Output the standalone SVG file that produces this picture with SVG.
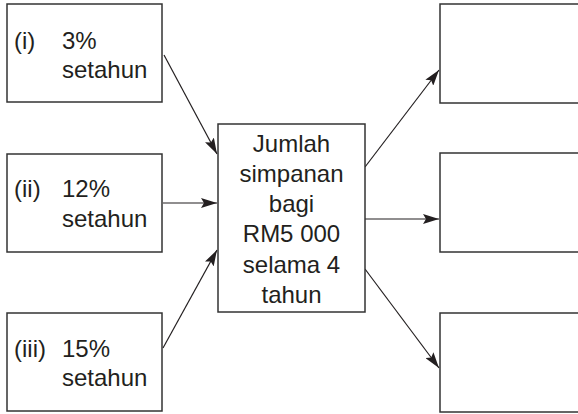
<svg xmlns="http://www.w3.org/2000/svg" width="578" height="414" viewBox="0 0 578 414">
<style>
.box{fill:#fff;stroke:#333;stroke-width:1.5}
.t{font-family:"Liberation Sans",Arial,sans-serif;font-size:24px;fill:#231f20}
.c{text-anchor:middle}
.ln{stroke:#231f20;stroke-width:1.2;fill:none;marker-end:url(#ah)}
</style>
<defs>
<marker id="ah" viewBox="0 0 16 10" refX="16" refY="5" markerWidth="16" markerHeight="10" markerUnits="userSpaceOnUse" orient="auto">
<path d="M0,0 L16,5 L0,10 L3,5 Z" fill="#231f20"/>
</marker>
</defs>
<rect width="578" height="414" fill="#fff"/>
<g id="connectors">
<line class="ln" x1="164" y1="55" x2="217" y2="154"/>
<line class="ln" x1="163" y1="203" x2="217" y2="203"/>
<line class="ln" x1="163" y1="348" x2="217" y2="250"/>
<line class="ln" x1="365" y1="167" x2="439" y2="70"/>
<line class="ln" x1="365" y1="219" x2="439" y2="219"/>
<line class="ln" x1="365" y1="269" x2="439" y2="368"/>
</g>
<g id="n1">
<rect class="box" x="7" y="4" width="155" height="98"/>
<text class="t" x="14" y="49">(i)</text>
<text class="t" x="62" y="49">3%</text>
<text class="t" x="62" y="78">setahun</text>
</g>
<g id="n2">
<rect class="box" x="7" y="154" width="155" height="98"/>
<text class="t" x="14" y="197">(ii)</text>
<text class="t" x="62" y="197">12%</text>
<text class="t" x="62" y="227">setahun</text>
</g>
<g id="n3">
<rect class="box" x="7" y="313" width="155" height="98"/>
<text class="t" x="14" y="357">(iii)</text>
<text class="t" x="62" y="357">15%</text>
<text class="t" x="62" y="386">setahun</text>
</g>
<g id="center">
<rect class="box" x="218" y="124" width="147" height="188"/>
<text class="t c" x="291.5" y="152">Jumlah</text>
<text class="t c" x="291.5" y="182">simpanan</text>
<text class="t c" x="291.5" y="212">bagi</text>
<text class="t c" x="291.5" y="242">RM5 000</text>
<text class="t c" x="291.5" y="273">selama 4</text>
<text class="t c" x="291.5" y="303">tahun</text>
</g>
<g id="r1"><rect class="box" x="440" y="4" width="145" height="99"/></g>
<g id="r2"><rect class="box" x="440" y="153" width="145" height="99"/></g>
<g id="r3"><rect class="box" x="440" y="313" width="145" height="99"/></g>
</svg>
